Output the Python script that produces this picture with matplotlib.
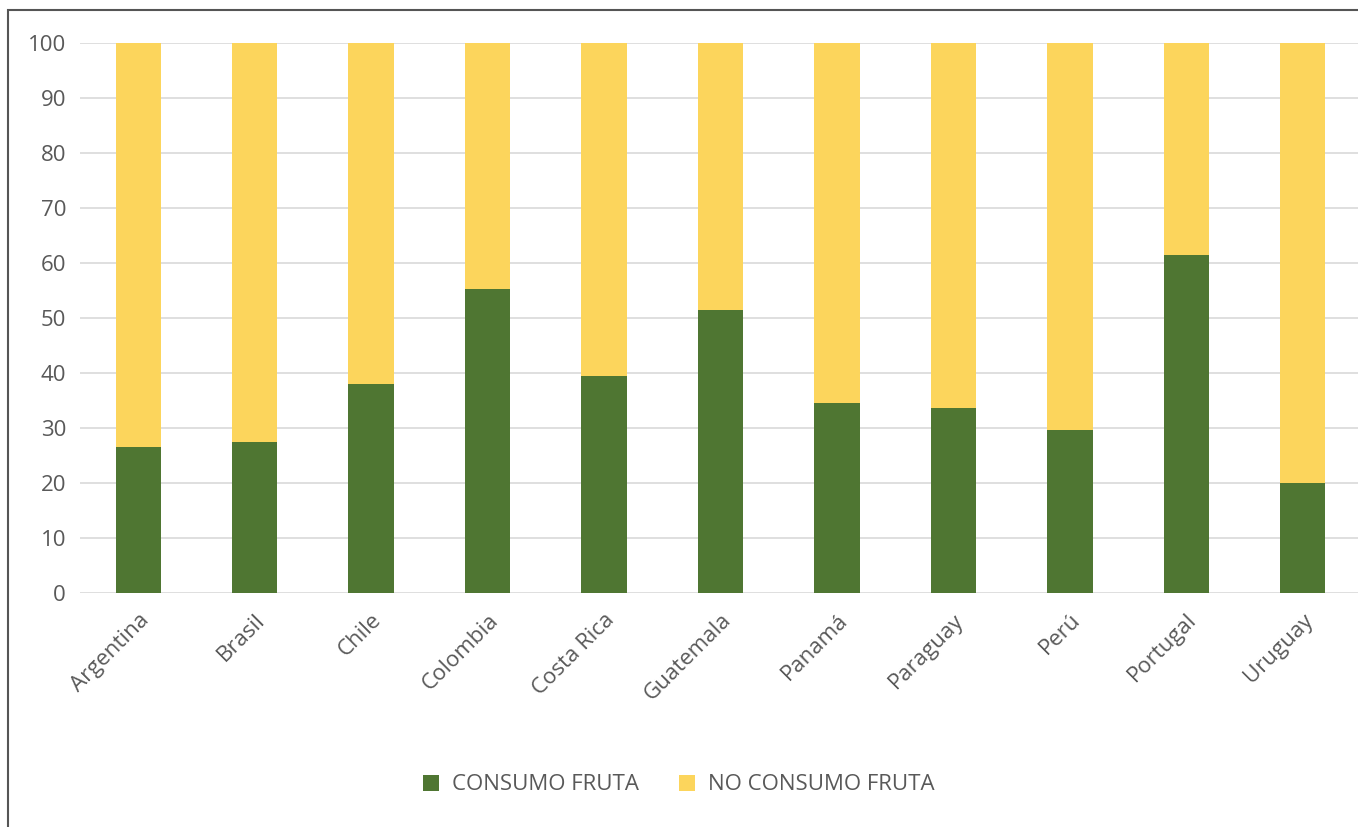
import matplotlib.pyplot as plt
from matplotlib.patches import Rectangle
import numpy as np

paises = ['Argentina', 'Brasil', 'Chile', 'Colombia', 'Costa Rica', 'Guatemala',
          'Panamá', 'Paraguay', 'Perú', 'Portugal', 'Uruguay']
consumo = [26.5, 27.5, 38.0, 55.3, 39.5, 51.5, 34.5, 33.6, 29.6, 61.5, 20.0]
no_consumo = [100 - v for v in consumo]

verde = '#4f7632'
amarillo = '#fcd55c'
gris = '#595959'

plt.rcParams['font.family'] = ['Open Sans', 'DejaVu Sans']

fig = plt.figure(figsize=(13.58, 8.27), dpi=100)
W, H = 1358, 827
# marco del grafico
fig.add_artist(Rectangle((8 / W, -0.05), 1.1, 1 - 10 / H + 0.05, transform=fig.transFigure,
                         fill=False, edgecolor='#555555', linewidth=1.5))

ax = fig.add_axes([80 / W, 1 - 593 / H, (1361 - 80) / W, (593 - 43) / H])
x = np.arange(len(paises))
ax.bar(x, consumo, width=0.39, color=verde, label='CONSUMO FRUTA', zorder=3)
ax.bar(x, no_consumo, width=0.39, bottom=consumo, color=amarillo,
       label='NO CONSUMO FRUTA', zorder=3)

ax.set_xlim(-0.5, len(paises) - 0.5)
ax.set_ylim(0, 100)
ax.set_yticks(range(0, 101, 10))
ax.yaxis.grid(True, color='#d9d9d9', linewidth=1.2, zorder=0)
for s in ax.spines.values():
    s.set_visible(False)
ax.tick_params(axis='both', length=0, colors=gris, labelsize=16)
ax.tick_params(axis='y', pad=10)
ax.set_xticks(x)
ax.set_xticklabels(paises, rotation=45, ha='right', rotation_mode='anchor')
ax.tick_params(axis='x', pad=12)

ax.legend(loc='center', bbox_to_anchor=(0.5, 1 - 785 / H), bbox_transform=fig.transFigure,
          ncol=2, frameon=False, fontsize=16, labelcolor=gris, handlelength=0.7,
          handleheight=0.7, columnspacing=1.8, handletextpad=0.6)

plt.savefig('out.png', dpi=100)
